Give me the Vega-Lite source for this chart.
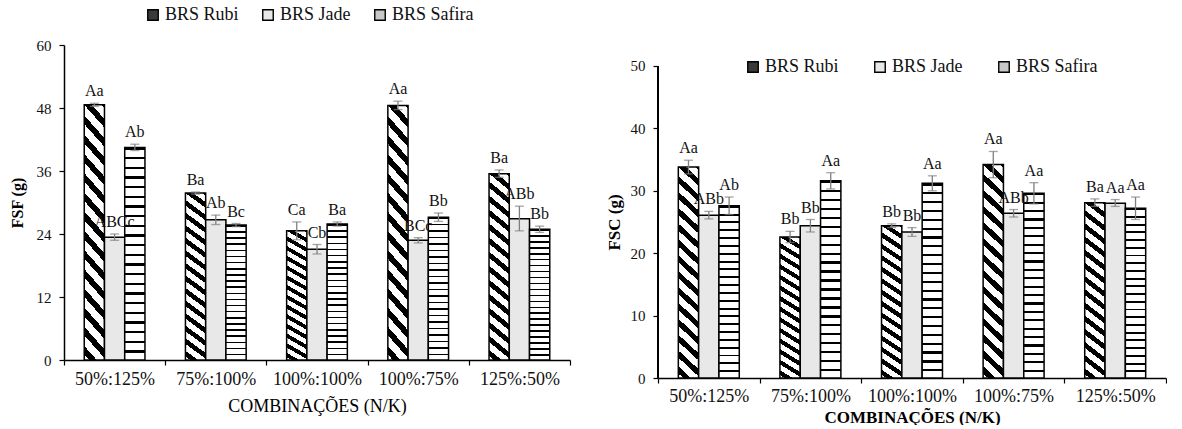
{
  "$schema": "https://vega.github.io/schema/vega-lite/v6.json",
  "background": "white",
  "padding": {"left": 9, "top": 6, "right": 0, "bottom": 0},
  "config": {
    "font": "Liberation Serif",
    "view": {"stroke": null},
    "axis": {"domainColor": "black", "domainWidth": 1.5, "tickColor": "black", "tickWidth": 1.2, "tickSize": 5, "labelColor": "#111", "titleColor": "black", "grid": false, "labelFont": "Liberation Serif", "titleFont": "Liberation Serif"},
    "legend": {"labelFont": "Liberation Serif", "labelColor": "#111"}
  },
  "datasets": {
    "fsf": [
      {"combo": "50%:125%", "cultivar": "BRS Rubi", "value": 48.6, "lo": 48.3, "hi": 48.9, "label": "Aa"},
      {"combo": "50%:125%", "cultivar": "BRS Jade", "value": 23.4, "lo": 22.8, "hi": 24.0, "label": "ABCc"},
      {"combo": "50%:125%", "cultivar": "BRS Safira", "value": 40.5, "lo": 39.9, "hi": 41.1, "label": "Ab"},
      {"combo": "75%:100%", "cultivar": "BRS Rubi", "value": 31.8, "lo": 31.6, "hi": 32.0, "label": "Ba"},
      {"combo": "75%:100%", "cultivar": "BRS Jade", "value": 26.7, "lo": 25.8, "hi": 27.6, "label": "Ab"},
      {"combo": "75%:100%", "cultivar": "BRS Safira", "value": 25.7, "lo": 25.4, "hi": 26.0, "label": "Bc"},
      {"combo": "100%:100%", "cultivar": "BRS Rubi", "value": 24.6, "lo": 22.9, "hi": 26.3, "label": "Ca"},
      {"combo": "100%:100%", "cultivar": "BRS Jade", "value": 21.1, "lo": 20.2, "hi": 22.0, "label": "Cb"},
      {"combo": "100%:100%", "cultivar": "BRS Safira", "value": 25.9, "lo": 25.5, "hi": 26.3, "label": "Ba"},
      {"combo": "100%:75%", "cultivar": "BRS Rubi", "value": 48.5, "lo": 47.7, "hi": 49.3, "label": "Aa"},
      {"combo": "100%:75%", "cultivar": "BRS Jade", "value": 22.8, "lo": 22.3, "hi": 23.3, "label": "BCc"},
      {"combo": "100%:75%", "cultivar": "BRS Safira", "value": 27.2, "lo": 26.4, "hi": 28.0, "label": "Bb"},
      {"combo": "125%:50%", "cultivar": "BRS Rubi", "value": 35.5, "lo": 34.8, "hi": 36.2, "label": "Ba"},
      {"combo": "125%:50%", "cultivar": "BRS Jade", "value": 26.9, "lo": 24.6, "hi": 29.3, "label": "ABb"},
      {"combo": "125%:50%", "cultivar": "BRS Safira", "value": 24.9, "lo": 24.3, "hi": 25.5, "label": "Bb"}
    ],
    "fsc": [
      {"combo": "50%:125%", "cultivar": "BRS Rubi", "value": 33.8, "lo": 32.7, "hi": 34.9, "label": "Aa"},
      {"combo": "50%:125%", "cultivar": "BRS Jade", "value": 26.1, "lo": 25.5, "hi": 26.7, "label": "ABb"},
      {"combo": "50%:125%", "cultivar": "BRS Safira", "value": 27.6, "lo": 26.2, "hi": 29.0, "label": "Ab"},
      {"combo": "75%:100%", "cultivar": "BRS Rubi", "value": 22.6, "lo": 21.7, "hi": 23.5, "label": "Bb"},
      {"combo": "75%:100%", "cultivar": "BRS Jade", "value": 24.4, "lo": 23.4, "hi": 25.4, "label": "Bb"},
      {"combo": "75%:100%", "cultivar": "BRS Safira", "value": 31.6, "lo": 30.3, "hi": 32.9, "label": "Aa"},
      {"combo": "100%:100%", "cultivar": "BRS Rubi", "value": 24.4, "lo": 24.1, "hi": 24.7, "label": "Bb"},
      {"combo": "100%:100%", "cultivar": "BRS Jade", "value": 23.4, "lo": 22.7, "hi": 24.1, "label": "Bb"},
      {"combo": "100%:100%", "cultivar": "BRS Safira", "value": 31.2, "lo": 30.0, "hi": 32.4, "label": "Aa"},
      {"combo": "100%:75%", "cultivar": "BRS Rubi", "value": 34.2, "lo": 32.1, "hi": 36.3, "label": "Aa"},
      {"combo": "100%:75%", "cultivar": "BRS Jade", "value": 26.4, "lo": 25.8, "hi": 27.0, "label": "ABb"},
      {"combo": "100%:75%", "cultivar": "BRS Safira", "value": 29.6, "lo": 27.9, "hi": 31.3, "label": "Aa"},
      {"combo": "125%:50%", "cultivar": "BRS Rubi", "value": 28.1, "lo": 27.5, "hi": 28.7, "label": "Ba"},
      {"combo": "125%:50%", "cultivar": "BRS Jade", "value": 28.0, "lo": 27.5, "hi": 28.6, "label": "Aa"},
      {"combo": "125%:50%", "cultivar": "BRS Safira", "value": 27.2, "lo": 25.4, "hi": 29.0, "label": "Aa"}
    ]
  },
  "spacing": 34,
  "resolve": {"scale": {"x": "independent", "y": "independent", "xOffset": "independent", "fill": "independent"}, "legend": {"fill": "independent"}},
  "hconcat": [
    {
      "width": 506,
      "height": 315,
      "data": {"name": "fsf"},
      "encoding": {
        "x": {"field": "combo", "type": "nominal", "sort": ["50%:125%", "75%:100%", "100%:100%", "100%:75%", "125%:50%"], "scale": {"paddingInner": 0, "paddingOuter": 0},
          "axis": {"title": "COMBINAÇÕES (N/K)", "labelAngle": 0, "tickBand": "extent", "labelFontSize": 18, "labelPadding": 5, "titleFontSize": 18, "titleFontWeight": "normal", "titlePadding": 9}},
        "xOffset": {"field": "cultivar", "type": "nominal", "sort": ["BRS Rubi", "BRS Jade", "BRS Safira"], "scale": {"paddingInner": 0, "paddingOuter": 1.16}}
      },
      "layer": [
        {
          "mark": {"type": "bar", "stroke": "black", "strokeWidth": 1.5},
          "encoding": {
            "y": {"field": "value", "type": "quantitative", "title": "FSF (g)", "scale": {"domain": [0, 60], "nice": false},
              "axis": {"values": [0, 12, 24, 36, 48, 60], "labelFontSize": 15, "labelPadding": 8, "titleFontSize": 16, "titleFontWeight": "bold", "titlePadding": 11}},
            "fill": {"field": "cultivar", "type": "nominal", "sort": ["BRS Rubi", "BRS Jade", "BRS Safira"],
              "scale": {"domain": ["BRS Rubi", "BRS Jade", "BRS Safira"], "range": ["#3a3a3a", "#e8e8e8", "#c8c8c8"]},
              "condition": [
                {"test": "datum.cultivar === 'BRS Rubi'", "value": {"gradient": "linear", "x1": 0.55, "y1": -0.06, "x2": 0.45, "y2": 1.06, "stops": [
                  {"offset": 0, "color": "black"}, {"offset": 0.03, "color": "black"}, {"offset": 0.03, "color": "white"}, {"offset": 0.0667, "color": "white"},
                  {"offset": 0.0667, "color": "black"}, {"offset": 0.0967, "color": "black"}, {"offset": 0.0967, "color": "white"}, {"offset": 0.1333, "color": "white"},
                  {"offset": 0.1333, "color": "black"}, {"offset": 0.1633, "color": "black"}, {"offset": 0.1633, "color": "white"}, {"offset": 0.2, "color": "white"},
                  {"offset": 0.2, "color": "black"}, {"offset": 0.23, "color": "black"}, {"offset": 0.23, "color": "white"}, {"offset": 0.2667, "color": "white"},
                  {"offset": 0.2667, "color": "black"}, {"offset": 0.2967, "color": "black"}, {"offset": 0.2967, "color": "white"}, {"offset": 0.3333, "color": "white"},
                  {"offset": 0.3333, "color": "black"}, {"offset": 0.3633, "color": "black"}, {"offset": 0.3633, "color": "white"}, {"offset": 0.4, "color": "white"},
                  {"offset": 0.4, "color": "black"}, {"offset": 0.43, "color": "black"}, {"offset": 0.43, "color": "white"}, {"offset": 0.4667, "color": "white"},
                  {"offset": 0.4667, "color": "black"}, {"offset": 0.4967, "color": "black"}, {"offset": 0.4967, "color": "white"}, {"offset": 0.5333, "color": "white"},
                  {"offset": 0.5333, "color": "black"}, {"offset": 0.5633, "color": "black"}, {"offset": 0.5633, "color": "white"}, {"offset": 0.6, "color": "white"},
                  {"offset": 0.6, "color": "black"}, {"offset": 0.63, "color": "black"}, {"offset": 0.63, "color": "white"}, {"offset": 0.6667, "color": "white"},
                  {"offset": 0.6667, "color": "black"}, {"offset": 0.6967, "color": "black"}, {"offset": 0.6967, "color": "white"}, {"offset": 0.7333, "color": "white"},
                  {"offset": 0.7333, "color": "black"}, {"offset": 0.7633, "color": "black"}, {"offset": 0.7633, "color": "white"}, {"offset": 0.8, "color": "white"},
                  {"offset": 0.8, "color": "black"}, {"offset": 0.83, "color": "black"}, {"offset": 0.83, "color": "white"}, {"offset": 0.8667, "color": "white"},
                  {"offset": 0.8667, "color": "black"}, {"offset": 0.8967, "color": "black"}, {"offset": 0.8967, "color": "white"}, {"offset": 0.9333, "color": "white"},
                  {"offset": 0.9333, "color": "black"}, {"offset": 0.9633, "color": "black"}, {"offset": 0.9633, "color": "white"}, {"offset": 1, "color": "white"}]}},
                {"test": "datum.cultivar === 'BRS Safira'", "value": {"gradient": "linear", "x1": 0, "y1": 0, "x2": 0, "y2": 1, "stops": [
                  {"offset": 0, "color": "black"}, {"offset": 0.0114, "color": "black"}, {"offset": 0.0114, "color": "white"}, {"offset": 0.0455, "color": "white"},
                  {"offset": 0.0455, "color": "black"}, {"offset": 0.0568, "color": "black"}, {"offset": 0.0568, "color": "white"}, {"offset": 0.0909, "color": "white"},
                  {"offset": 0.0909, "color": "black"}, {"offset": 0.1023, "color": "black"}, {"offset": 0.1023, "color": "white"}, {"offset": 0.1364, "color": "white"},
                  {"offset": 0.1364, "color": "black"}, {"offset": 0.1477, "color": "black"}, {"offset": 0.1477, "color": "white"}, {"offset": 0.1818, "color": "white"},
                  {"offset": 0.1818, "color": "black"}, {"offset": 0.1932, "color": "black"}, {"offset": 0.1932, "color": "white"}, {"offset": 0.2273, "color": "white"},
                  {"offset": 0.2273, "color": "black"}, {"offset": 0.2386, "color": "black"}, {"offset": 0.2386, "color": "white"}, {"offset": 0.2727, "color": "white"},
                  {"offset": 0.2727, "color": "black"}, {"offset": 0.2841, "color": "black"}, {"offset": 0.2841, "color": "white"}, {"offset": 0.3182, "color": "white"},
                  {"offset": 0.3182, "color": "black"}, {"offset": 0.3295, "color": "black"}, {"offset": 0.3295, "color": "white"}, {"offset": 0.3636, "color": "white"},
                  {"offset": 0.3636, "color": "black"}, {"offset": 0.375, "color": "black"}, {"offset": 0.375, "color": "white"}, {"offset": 0.4091, "color": "white"},
                  {"offset": 0.4091, "color": "black"}, {"offset": 0.4205, "color": "black"}, {"offset": 0.4205, "color": "white"}, {"offset": 0.4545, "color": "white"},
                  {"offset": 0.4545, "color": "black"}, {"offset": 0.4659, "color": "black"}, {"offset": 0.4659, "color": "white"}, {"offset": 0.5, "color": "white"},
                  {"offset": 0.5, "color": "black"}, {"offset": 0.5114, "color": "black"}, {"offset": 0.5114, "color": "white"}, {"offset": 0.5455, "color": "white"},
                  {"offset": 0.5455, "color": "black"}, {"offset": 0.5568, "color": "black"}, {"offset": 0.5568, "color": "white"}, {"offset": 0.5909, "color": "white"},
                  {"offset": 0.5909, "color": "black"}, {"offset": 0.6023, "color": "black"}, {"offset": 0.6023, "color": "white"}, {"offset": 0.6364, "color": "white"},
                  {"offset": 0.6364, "color": "black"}, {"offset": 0.6477, "color": "black"}, {"offset": 0.6477, "color": "white"}, {"offset": 0.6818, "color": "white"},
                  {"offset": 0.6818, "color": "black"}, {"offset": 0.6932, "color": "black"}, {"offset": 0.6932, "color": "white"}, {"offset": 0.7273, "color": "white"},
                  {"offset": 0.7273, "color": "black"}, {"offset": 0.7386, "color": "black"}, {"offset": 0.7386, "color": "white"}, {"offset": 0.7727, "color": "white"},
                  {"offset": 0.7727, "color": "black"}, {"offset": 0.7841, "color": "black"}, {"offset": 0.7841, "color": "white"}, {"offset": 0.8182, "color": "white"},
                  {"offset": 0.8182, "color": "black"}, {"offset": 0.8295, "color": "black"}, {"offset": 0.8295, "color": "white"}, {"offset": 0.8636, "color": "white"},
                  {"offset": 0.8636, "color": "black"}, {"offset": 0.875, "color": "black"}, {"offset": 0.875, "color": "white"}, {"offset": 0.9091, "color": "white"},
                  {"offset": 0.9091, "color": "black"}, {"offset": 0.9205, "color": "black"}, {"offset": 0.9205, "color": "white"}, {"offset": 0.9545, "color": "white"},
                  {"offset": 0.9545, "color": "black"}, {"offset": 0.9659, "color": "black"}, {"offset": 0.9659, "color": "white"}, {"offset": 1, "color": "white"}]}}
              ],
              "legend": {"orient": "none", "legendX": 80, "legendY": -39, "direction": "horizontal", "title": null, "symbolType": "square", "symbolSize": 110, "symbolStrokeColor": "black", "symbolStrokeWidth": 1.4, "labelFontSize": 18, "labelOffset": 3, "columnPadding": 20}}
          }
        },
        {
          "mark": {"type": "rule", "color": "#7f7f7f", "strokeWidth": 1.3},
          "encoding": {"y": {"field": "lo", "type": "quantitative", "title": "FSF (g)"}, "y2": {"field": "hi"}}
        },
        {
          "mark": {"type": "tick", "color": "#7f7f7f", "thickness": 1.3, "size": 9},
          "encoding": {"y": {"field": "lo", "type": "quantitative", "title": "FSF (g)"}}
        },
        {
          "mark": {"type": "tick", "color": "#7f7f7f", "thickness": 1.3, "size": 9},
          "encoding": {"y": {"field": "hi", "type": "quantitative", "title": "FSF (g)"}}
        },
        {
          "mark": {"type": "text", "baseline": "alphabetic", "dy": -7, "fontSize": 16, "color": "#111"},
          "encoding": {"y": {"field": "hi", "type": "quantitative", "title": "FSF (g)"}, "text": {"field": "label"}}
        }
      ]
    },
    {
      "width": 508,
      "height": 333,
      "data": {"name": "fsc"},
      "encoding": {
        "x": {"field": "combo", "type": "nominal", "sort": ["50%:125%", "75%:100%", "100%:100%", "100%:75%", "125%:50%"], "scale": {"paddingInner": 0, "paddingOuter": 0},
          "axis": {"title": "COMBINAÇÕES (N/K)", "labelAngle": 0, "tickBand": "extent", "labelFontSize": 18, "labelPadding": 4, "titleFontSize": 17, "titleFontWeight": "bold", "titlePadding": 4}}
      },
      "layer": [
        {
          "mark": {"type": "bar", "stroke": "black", "strokeWidth": 1.5},
          "encoding": {
            "xOffset": {"field": "cultivar", "type": "nominal", "sort": ["BRS Rubi", "BRS Jade", "BRS Safira"], "scale": {"paddingInner": 0, "paddingOuter": 1.12}},
            "y": {"field": "value", "type": "quantitative", "title": "FSC (g)", "scale": {"domain": [0, 53.365], "nice": false},
              "axis": {"values": [0, 10, 20, 30, 40, 50], "domain": false, "labelFontSize": 15, "labelPadding": 8, "titleFontSize": 17, "titleFontWeight": "bold", "titlePadding": 7, "titleY": 177}},
            "fill": {"field": "cultivar", "type": "nominal", "sort": ["BRS Rubi", "BRS Jade", "BRS Safira"],
              "scale": {"domain": ["BRS Rubi", "BRS Jade", "BRS Safira"], "range": ["#3a3a3a", "#e8e8e8", "#c8c8c8"]},
              "condition": [
                {"test": "datum.cultivar === 'BRS Rubi'", "value": {"gradient": "linear", "x1": 0.55, "y1": -0.06, "x2": 0.45, "y2": 1.06, "stops": [
                  {"offset": 0, "color": "black"}, {"offset": 0.03, "color": "black"}, {"offset": 0.03, "color": "white"}, {"offset": 0.0667, "color": "white"},
                  {"offset": 0.0667, "color": "black"}, {"offset": 0.0967, "color": "black"}, {"offset": 0.0967, "color": "white"}, {"offset": 0.1333, "color": "white"},
                  {"offset": 0.1333, "color": "black"}, {"offset": 0.1633, "color": "black"}, {"offset": 0.1633, "color": "white"}, {"offset": 0.2, "color": "white"},
                  {"offset": 0.2, "color": "black"}, {"offset": 0.23, "color": "black"}, {"offset": 0.23, "color": "white"}, {"offset": 0.2667, "color": "white"},
                  {"offset": 0.2667, "color": "black"}, {"offset": 0.2967, "color": "black"}, {"offset": 0.2967, "color": "white"}, {"offset": 0.3333, "color": "white"},
                  {"offset": 0.3333, "color": "black"}, {"offset": 0.3633, "color": "black"}, {"offset": 0.3633, "color": "white"}, {"offset": 0.4, "color": "white"},
                  {"offset": 0.4, "color": "black"}, {"offset": 0.43, "color": "black"}, {"offset": 0.43, "color": "white"}, {"offset": 0.4667, "color": "white"},
                  {"offset": 0.4667, "color": "black"}, {"offset": 0.4967, "color": "black"}, {"offset": 0.4967, "color": "white"}, {"offset": 0.5333, "color": "white"},
                  {"offset": 0.5333, "color": "black"}, {"offset": 0.5633, "color": "black"}, {"offset": 0.5633, "color": "white"}, {"offset": 0.6, "color": "white"},
                  {"offset": 0.6, "color": "black"}, {"offset": 0.63, "color": "black"}, {"offset": 0.63, "color": "white"}, {"offset": 0.6667, "color": "white"},
                  {"offset": 0.6667, "color": "black"}, {"offset": 0.6967, "color": "black"}, {"offset": 0.6967, "color": "white"}, {"offset": 0.7333, "color": "white"},
                  {"offset": 0.7333, "color": "black"}, {"offset": 0.7633, "color": "black"}, {"offset": 0.7633, "color": "white"}, {"offset": 0.8, "color": "white"},
                  {"offset": 0.8, "color": "black"}, {"offset": 0.83, "color": "black"}, {"offset": 0.83, "color": "white"}, {"offset": 0.8667, "color": "white"},
                  {"offset": 0.8667, "color": "black"}, {"offset": 0.8967, "color": "black"}, {"offset": 0.8967, "color": "white"}, {"offset": 0.9333, "color": "white"},
                  {"offset": 0.9333, "color": "black"}, {"offset": 0.9633, "color": "black"}, {"offset": 0.9633, "color": "white"}, {"offset": 1, "color": "white"}]}},
                {"test": "datum.cultivar === 'BRS Safira'", "value": {"gradient": "linear", "x1": 0, "y1": 0, "x2": 0, "y2": 1, "stops": [
                  {"offset": 0, "color": "black"}, {"offset": 0.0114, "color": "black"}, {"offset": 0.0114, "color": "white"}, {"offset": 0.0455, "color": "white"},
                  {"offset": 0.0455, "color": "black"}, {"offset": 0.0568, "color": "black"}, {"offset": 0.0568, "color": "white"}, {"offset": 0.0909, "color": "white"},
                  {"offset": 0.0909, "color": "black"}, {"offset": 0.1023, "color": "black"}, {"offset": 0.1023, "color": "white"}, {"offset": 0.1364, "color": "white"},
                  {"offset": 0.1364, "color": "black"}, {"offset": 0.1477, "color": "black"}, {"offset": 0.1477, "color": "white"}, {"offset": 0.1818, "color": "white"},
                  {"offset": 0.1818, "color": "black"}, {"offset": 0.1932, "color": "black"}, {"offset": 0.1932, "color": "white"}, {"offset": 0.2273, "color": "white"},
                  {"offset": 0.2273, "color": "black"}, {"offset": 0.2386, "color": "black"}, {"offset": 0.2386, "color": "white"}, {"offset": 0.2727, "color": "white"},
                  {"offset": 0.2727, "color": "black"}, {"offset": 0.2841, "color": "black"}, {"offset": 0.2841, "color": "white"}, {"offset": 0.3182, "color": "white"},
                  {"offset": 0.3182, "color": "black"}, {"offset": 0.3295, "color": "black"}, {"offset": 0.3295, "color": "white"}, {"offset": 0.3636, "color": "white"},
                  {"offset": 0.3636, "color": "black"}, {"offset": 0.375, "color": "black"}, {"offset": 0.375, "color": "white"}, {"offset": 0.4091, "color": "white"},
                  {"offset": 0.4091, "color": "black"}, {"offset": 0.4205, "color": "black"}, {"offset": 0.4205, "color": "white"}, {"offset": 0.4545, "color": "white"},
                  {"offset": 0.4545, "color": "black"}, {"offset": 0.4659, "color": "black"}, {"offset": 0.4659, "color": "white"}, {"offset": 0.5, "color": "white"},
                  {"offset": 0.5, "color": "black"}, {"offset": 0.5114, "color": "black"}, {"offset": 0.5114, "color": "white"}, {"offset": 0.5455, "color": "white"},
                  {"offset": 0.5455, "color": "black"}, {"offset": 0.5568, "color": "black"}, {"offset": 0.5568, "color": "white"}, {"offset": 0.5909, "color": "white"},
                  {"offset": 0.5909, "color": "black"}, {"offset": 0.6023, "color": "black"}, {"offset": 0.6023, "color": "white"}, {"offset": 0.6364, "color": "white"},
                  {"offset": 0.6364, "color": "black"}, {"offset": 0.6477, "color": "black"}, {"offset": 0.6477, "color": "white"}, {"offset": 0.6818, "color": "white"},
                  {"offset": 0.6818, "color": "black"}, {"offset": 0.6932, "color": "black"}, {"offset": 0.6932, "color": "white"}, {"offset": 0.7273, "color": "white"},
                  {"offset": 0.7273, "color": "black"}, {"offset": 0.7386, "color": "black"}, {"offset": 0.7386, "color": "white"}, {"offset": 0.7727, "color": "white"},
                  {"offset": 0.7727, "color": "black"}, {"offset": 0.7841, "color": "black"}, {"offset": 0.7841, "color": "white"}, {"offset": 0.8182, "color": "white"},
                  {"offset": 0.8182, "color": "black"}, {"offset": 0.8295, "color": "black"}, {"offset": 0.8295, "color": "white"}, {"offset": 0.8636, "color": "white"},
                  {"offset": 0.8636, "color": "black"}, {"offset": 0.875, "color": "black"}, {"offset": 0.875, "color": "white"}, {"offset": 0.9091, "color": "white"},
                  {"offset": 0.9091, "color": "black"}, {"offset": 0.9205, "color": "black"}, {"offset": 0.9205, "color": "white"}, {"offset": 0.9545, "color": "white"},
                  {"offset": 0.9545, "color": "black"}, {"offset": 0.9659, "color": "black"}, {"offset": 0.9659, "color": "white"}, {"offset": 1, "color": "white"}]}}
              ],
              "legend": {"orient": "none", "legendX": 86, "legendY": 13, "direction": "horizontal", "title": null, "symbolType": "square", "symbolSize": 110, "symbolStrokeColor": "black", "symbolStrokeWidth": 1.4, "labelFontSize": 18, "labelOffset": 3, "columnPadding": 32}}
          }
        },
        {
          "mark": {"type": "rule", "color": "black", "strokeWidth": 1.5},
          "encoding": {"x": {"datum": "50%:125%", "type": "nominal", "bandPosition": 0}, "y": {"datum": 0, "type": "quantitative"}, "y2": {"datum": 50}}
        },
        {
          "mark": {"type": "rule", "color": "#7f7f7f", "strokeWidth": 1.3},
          "encoding": {
            "xOffset": {"field": "cultivar", "type": "nominal", "sort": ["BRS Rubi", "BRS Jade", "BRS Safira"]},
            "y": {"field": "lo", "type": "quantitative", "title": "FSC (g)"}, "y2": {"field": "hi"}}
        },
        {
          "mark": {"type": "tick", "color": "#7f7f7f", "thickness": 1.3, "size": 9},
          "encoding": {
            "xOffset": {"field": "cultivar", "type": "nominal", "sort": ["BRS Rubi", "BRS Jade", "BRS Safira"]},
            "y": {"field": "lo", "type": "quantitative", "title": "FSC (g)"}}
        },
        {
          "mark": {"type": "tick", "color": "#7f7f7f", "thickness": 1.3, "size": 9},
          "encoding": {
            "xOffset": {"field": "cultivar", "type": "nominal", "sort": ["BRS Rubi", "BRS Jade", "BRS Safira"]},
            "y": {"field": "hi", "type": "quantitative", "title": "FSC (g)"}}
        },
        {
          "mark": {"type": "text", "baseline": "alphabetic", "dy": -7, "fontSize": 16, "color": "#111"},
          "encoding": {
            "xOffset": {"field": "cultivar", "type": "nominal", "sort": ["BRS Rubi", "BRS Jade", "BRS Safira"]},
            "y": {"field": "hi", "type": "quantitative", "title": "FSC (g)"}, "text": {"field": "label"}}
        }
      ]
    }
  ]
}
